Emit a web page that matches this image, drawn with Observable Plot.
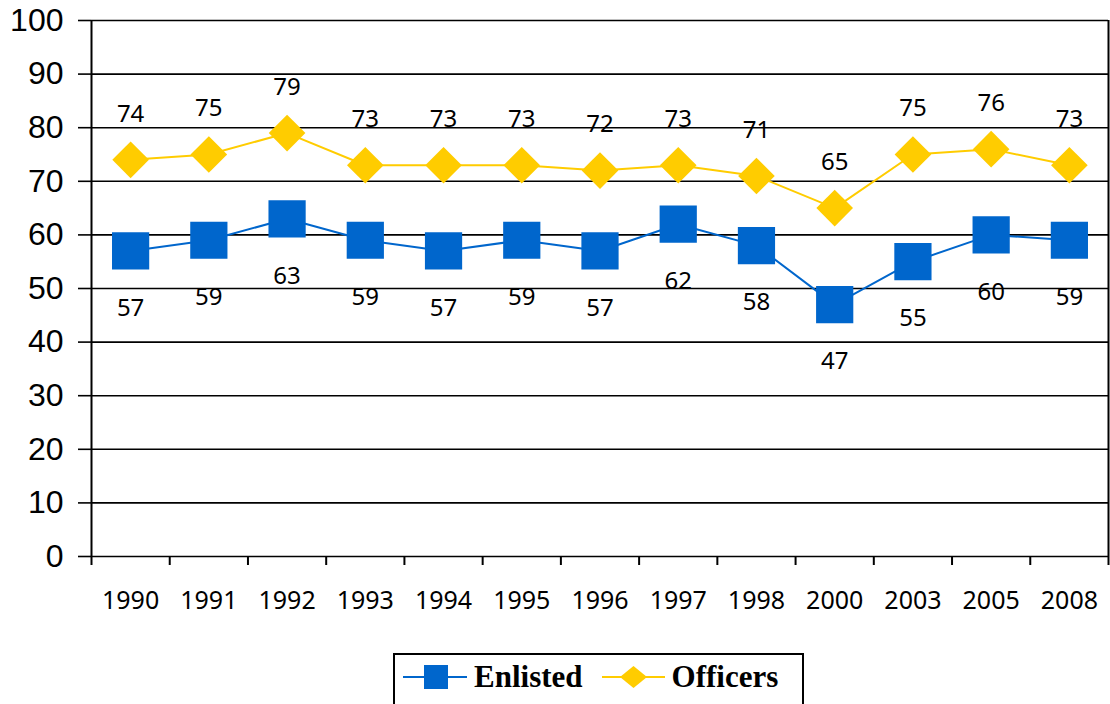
<!DOCTYPE html>
<html>
<head>
<meta charset="utf-8">
<script src="https://cdn.jsdelivr.net/npm/d3@7"></script>
<script src="https://cdn.jsdelivr.net/npm/@observablehq/plot@0.6"></script>
<style>
  html, body { margin: 0; padding: 0; background: #fff; }
  #chart { width: 1110px; }
  #legend {
    position: absolute; left: 393px; top: 653px; width: 411px; height: 60px;
    border: 2px solid #000; box-sizing: border-box; background: #fff;
    display: flex; align-items: flex-start; padding-top: 6px; padding-left: 8px;
    font-family: "Liberation Serif", "Times New Roman", serif; font-weight: bold; font-size: 31px;
  }
  .item { display: flex; align-items: center; height: 32px; }
  .item svg { margin-right: 7px; display: block; }
  .item span { line-height: 32px; }
</style>
</head>
<body>
<div id="chart"></div>
<div id="legend"></div>
<script>
const years = ["1990","1991","1992","1993","1994","1995","1996","1997","1998","2000","2003","2005","2008"];
const enlisted = [57, 59, 63, 59, 57, 59, 57, 62, 58, 47, 55, 60, 59];
const officers = [74, 75, 79, 73, 73, 73, 72, 73, 71, 65, 75, 76, 73];
const seriesNames = ["Enlisted", "Officers"];
const seriesColors = ["#0066CC", "#FFCC00"];
const yTicks = d3.range(0, 101, 10);

const data = years.map((y, i) => ({i, year: y, enlisted: enlisted[i], officers: officers[i]}));

const chart = Plot.plot({
  width: 1110,
  height: 620,
  marginLeft: 91,
  marginRight: 2,
  marginTop: 20,
  marginBottom: 64,
  style: {fontFamily: "Noto Sans", color: "#000", background: "#fff"},
  x: {type: "linear", domain: [-0.5, years.length - 0.5]},
  y: {domain: [0, 100]},
  marks: [
    Plot.ruleY(yTicks, {stroke: "#000", strokeWidth: 1.6}),
    Plot.ruleX([-0.5, years.length - 0.5], {stroke: "#000", strokeWidth: 2}),
    Plot.axisY({ticks: yTicks, tickSize: 13, tickPadding: 15, fontSize: 32, fontFamily: "Liberation Sans", strokeWidth: 1.6, label: null}),
    Plot.axisX({ticks: d3.range(-0.5, years.length, 1), tickSize: 9, tickFormat: () => "", strokeWidth: 2, label: null}),
    Plot.axisX({ticks: d3.range(0, years.length), tickSize: 0, tickPadding: 35, tickFormat: i => years[i], fontSize: 25, label: null}),
    Plot.line(data, {x: "i", y: "enlisted", stroke: seriesColors[0], strokeWidth: 2}),
    Plot.line(data, {x: "i", y: "officers", stroke: seriesColors[1], strokeWidth: 2}),
    Plot.dot(data, {x: "i", y: "enlisted", symbol: "square", r: 21, fill: seriesColors[0], stroke: "none"}),
    Plot.dot(data, {x: "i", y: "officers", symbol: "diamond2", r: 16.5, fill: seriesColors[1], stroke: "none"}),
    Plot.text(data, {x: "i", y: "officers", text: d => String(d.officers), dy: -46, fontSize: 24, fill: "#000"}),
    Plot.text(data, {x: "i", y: "enlisted", text: d => String(d.enlisted), dy: 57, fontSize: 24, fill: "#000"})
  ]
});
document.getElementById("chart").appendChild(chart);

const legend = document.getElementById("legend");
const legendSymbols = [
  '<rect x="21" y="4" width="24" height="24" fill="' + seriesColors[0] + '"/>',
  '<path d="M31.5 5 L45 16 L31.5 27 L18 16 Z" fill="' + seriesColors[1] + '"/>'
];
const legendWidths = [64, 63];
seriesNames.forEach((name, k) => {
  const item = document.createElement("div");
  item.className = "item";
  if (k > 0) item.style.marginLeft = "19px";
  const w = legendWidths[k];
  item.innerHTML = '<svg width="' + w + '" height="32"><line x1="0" x2="' + w + '" y1="16" y2="16" stroke="' + seriesColors[k] + '" stroke-width="2"/>' + legendSymbols[k] + '</svg><span>' + name + '</span>';
  legend.appendChild(item);
});
</script>
</body>
</html>
